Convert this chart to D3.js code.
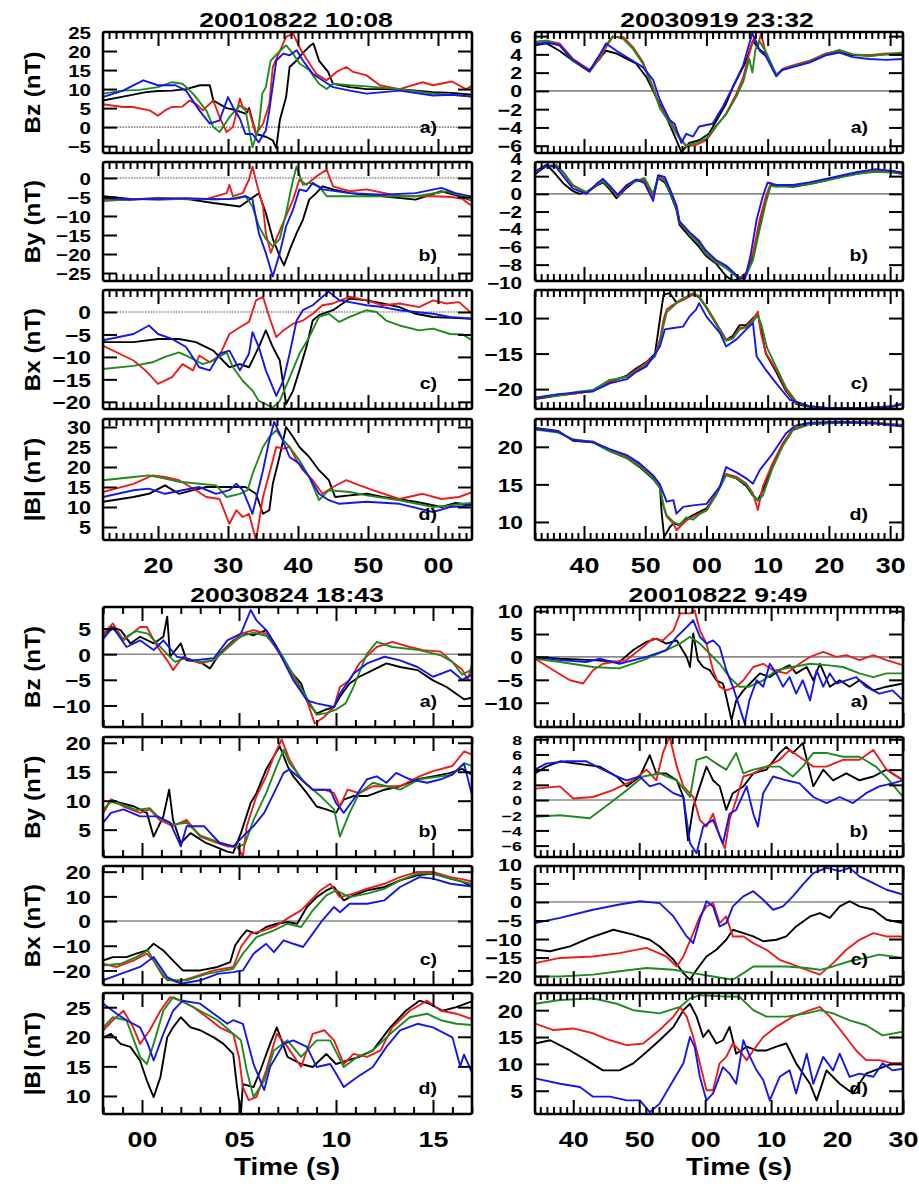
<!DOCTYPE html>
<html><head><meta charset="utf-8">
<script src="https://cdn.jsdelivr.net/npm/d3@7"></script>
<style>
body{margin:0;background:#fff}
text{font-family:"Liberation Sans",Arial,Helvetica,sans-serif;font-weight:bold;fill:#000}
</style>
</head><body>
<svg id="c" width="919" height="1184"></svg>
<script>
// ===== Data: each series is [time, value] pairs; colours in order black, red, green, blue =====
// --- 20010822 10:08 ---
const tlXTicks=[20,30,40,50,60];
const tlBzTicks=[-5,0,5,10,15,20,25], tlByTicks=[-25,-20,-15,-10,-5,0], tlBxTicks=[-20,-15,-10,-5,0], tlBmTicks=[5,10,15,20,25,30];
const tlBzK=[[12.1,7],[15,8],[18.3,9.2],[20,9.5],[22,9.6],[24,10],[26,11],[27.4,11],[27.9,7],[29.8,5],[31,4.5],[32.6,3.5],[33,5],[34,-1.8],[35.5,-2.6],[36.4,-3.5],[36.9,-5.5],[37.4,1.8],[38.3,7.9],[38.8,15.8],[39.8,17.5],[40.6,19.3],[41.8,21.5],[42.2,22],[43,17.5],[44.3,14.5],[45,11.4],[47.4,10.5],[49.8,10],[54.5,10],[59.3,9.2],[62,9],[65,8.5]];
const tlBzR=[[12.1,6],[15,5.3],[16.4,5.3],[18.8,4.4],[20,3],[21,4.4],[22,5.3],[23.5,5.4],[24.5,7],[25.5,6],[26.4,4.4],[27.9,7],[28.8,2.6],[29.8,-1.3],[30.7,0],[31.7,7.5],[32.1,5.3],[33,4.4],[34,-1.8],[35,0.9],[35.9,6],[36.4,15.8],[37.4,20],[38.3,23.7],[39.3,24.6],[40.2,21],[41.2,18],[42.6,14],[44.1,12.3],[45.5,14.5],[46.9,15.8],[47.9,14.5],[49.8,13.6],[51.7,11],[54.5,10],[57.8,11.8],[59.3,11],[62,12],[64,10],[65,11]];
const tlBzG=[[12.1,8.8],[15,9.6],[17.4,9.8],[20,10.5],[22,11.8],[23.5,11.4],[25,8.8],[26.9,4.4],[27.9,0],[28.8,-1.3],[30.2,2.6],[31.7,5.7],[32.5,4.4],[33.5,-5.3],[34.4,0],[34.9,8.8],[35.4,10.5],[36.1,17.5],[37.4,20],[38.3,21.5],[39.3,19.3],[40.2,16.7],[41.6,15],[43,11.4],[44.1,10],[45,11.4],[47.4,11],[49.8,10.7],[54.5,10],[59.3,8.8],[62,8.5],[65,8]];
const tlBzB=[[12.1,7.9],[15,9.6],[17.9,12.3],[20,11],[22.5,11],[24,9.6],[25.9,4.4],[27.4,0.9],[28.8,1.8],[30,7.9],[30.7,5.3],[31.7,2.2],[32.5,-1.8],[33.5,-1.8],[34.4,-4],[35.4,-0.9],[35.9,4.4],[36.9,17.5],[37.9,19.3],[38.8,18.9],[39.8,20.2],[40.7,17.5],[42.1,14],[43.5,12.3],[45,10.5],[47.4,9.6],[49.8,8.8],[54.5,9.6],[59.3,8.3],[62,8.5],[65,8]];
const tlByK=[[12.1,-4.8],[16,-5.5],[20,-5.7],[24,-5.5],[27.9,-6.6],[31.7,-7.5],[34.4,-4],[35.4,-9.2],[36.4,-16],[37.4,-20.6],[38,-23],[38.8,-19],[39.8,-14.5],[40.7,-11],[41.6,-5.7],[42.6,-4],[43.5,-2.2],[45,-3],[47.4,-4],[52.1,-4.8],[56.8,-5.7],[60.5,-3.5],[62.5,-4.5],[65,-6]];
const tlByR=[[12.1,-5.7],[16,-5.8],[20,-5.2],[24,-5.6],[27,-5.5],[29.8,-4],[30.2,-1.8],[30.7,-4.8],[32.1,-4],[33,-0.4],[33.5,3],[34.2,-2.2],[35,-7.5],[35.4,-14.5],[36.1,-19.7],[36.9,-16],[38.3,-10],[39.3,-5.7],[40.2,-0.4],[41.2,-1.8],[42.6,0.4],[44.1,2.2],[45,-2.2],[47.4,-3.5],[49.8,-3],[54.5,-4.8],[59.3,-4.8],[62,-5],[63.5,-5.5],[65,-7.6]];
const tlByG=[[12.1,-6.1],[16,-5.6],[20,-5.4],[24,-5.5],[28,-5.6],[30,-5.5],[32.5,-4.8],[33.5,-7.5],[34.4,-12.7],[35.4,-16],[36.4,-18],[37.4,-16],[38.3,-9.2],[39.3,-0.4],[39.8,3],[40.7,-1.8],[41.6,-1.3],[43,-2.2],[44.1,-4.8],[47.4,-4.8],[52.1,-4.8],[56.8,-4.8],[61.3,-3.5],[63,-4.5],[65,-6]];
const tlByB=[[12.1,-5.3],[16,-5.6],[20,-5.5],[24,-5.3],[28,-5.6],[31,-5.5],[32.5,-4.8],[33.5,-5.7],[34.4,-14.5],[35.4,-19.7],[36.4,-25.9],[37.4,-19.7],[38.3,-12.7],[39.3,-8.3],[40.2,-3],[41.2,-3.5],[42.1,-1.3],[43.5,-3],[47.4,-4],[52.1,-4.4],[56.8,-4],[60.5,-2.6],[62.5,-4],[65,-5]];
const tlBxK=[[12.1,-6.7],[16.5,-6.7],[20,-6],[23,-6],[25.4,-6.7],[27.9,-8.6],[30.2,-12.3],[31.7,-11.6],[33,-12.3],[34.4,-7.8],[35.4,-4.1],[36.4,-7.8],[37.4,-10.8],[38.3,-20.5],[39.3,-17.5],[40.2,-13],[41.2,-7.8],[42.1,-1.9],[43,-0.7],[45,0.4],[47.4,3],[49.8,2.6],[52.1,1.9],[54.5,1.1],[56.8,-0.4],[59.3,-1.1],[62,-1.3],[65,-1.5]];
const tlBxR=[[12.1,-7.5],[16.5,-10.8],[18.2,-13],[20,-16],[22,-14.5],[23.5,-11.6],[25,-13],[25.9,-9.7],[27.4,-11.2],[28.8,-9.7],[30.2,-4.9],[31.7,-3.4],[33,-2.2],[34,2.6],[35,3.4],[35.9,-1.1],[36.9,-5.6],[37.9,-4.1],[39.3,-2.6],[40.7,-1.9],[42.1,-0.4],[43.5,1.5],[45,1.9],[47.4,3.4],[49.8,2.6],[52.1,1.5],[54.5,1.9],[57.3,1.1],[59.3,2.6],[61.2,1.9],[63,2.2],[65,-0.5]];
const tlBxG=[[12.1,-12.7],[16.5,-12],[19.2,-11.2],[21,-10],[23,-9],[24.4,-10],[26.4,-11.6],[27.9,-10.8],[29.8,-9],[30.7,-12.3],[32.1,-15.3],[33.5,-17.5],[34.4,-19.8],[35.4,-20.5],[36.4,-21.3],[37.4,-19.8],[38.8,-14.6],[40.2,-9.3],[41.6,-5.6],[43,-1.1],[44.4,-0.4],[45.9,-2.2],[47.4,-1.1],[49.8,0.4],[51.2,0],[52.6,-1.9],[54.5,-3],[57.3,-4.1],[59.3,-3.7],[61.7,-4.9],[63.5,-5],[65,-6.4]];
const tlBxB=[[12.1,-6.3],[16.5,-4.9],[18.7,-3],[20,-4.9],[22,-6],[24,-7.8],[25.9,-12.3],[27.4,-13],[28.8,-9.3],[30.2,-8.6],[31.7,-13],[33,-9.3],[33.5,-4.5],[34.4,-7.8],[35.4,-13],[36.9,-18.7],[37.9,-15.3],[38.8,-9.3],[39.8,-1.9],[40.7,0.4],[42.1,1.5],[43.5,3.4],[44.4,4.5],[45.9,2.6],[47.4,2.2],[49.8,1.5],[52.1,1.1],[54.5,0.4],[56.8,0],[59.3,-0.4],[61.7,-1.1],[65,-1.5]];
const tlBmK=[[12.1,11.3],[16.5,12.5],[18.7,13.3],[21,15.4],[23,13.3],[25,14.2],[26.9,15],[30.2,15],[32.5,15],[34,13.3],[35,8.3],[35.9,9.2],[36.4,15.8],[37.4,22.9],[38.3,30],[39.3,27.5],[40.2,25],[41.6,22.5],[43,19.2],[44.4,16.7],[45.3,12.5],[47.4,12.9],[49.8,13.3],[52.1,12.5],[56.8,11.3],[60.5,10],[62.5,11],[65,10.5]];
const tlBmR=[[12.1,13.75],[16.5,15.8],[19.2,17.9],[21,17.5],[23,16.7],[25.4,14.2],[26.9,12.5],[28.8,12],[30.2,5.8],[31.2,9.2],[32.1,7.5],[33,8.3],[34,1.7],[35,12.5],[35.9,18.3],[36.9,25],[37.9,24.6],[38.8,25],[39.8,21.7],[40.7,19.2],[42.1,16.7],[43.5,13.3],[45,15],[46.9,16.7],[48.8,15.4],[50.7,14.2],[54.5,12],[57.8,13.3],[60.5,12],[63,12.5],[65,13.8]];
const tlBmG=[[12.1,16.7],[16.5,17.5],[18.7,17.9],[21,17.1],[23,16.3],[25.9,15.8],[28.3,15.4],[29.8,12.5],[31.7,13.3],[32.8,14.2],[33.5,18.3],[35,25],[35.9,27.5],[36.9,29.2],[37.9,26.7],[38.8,25],[40.2,21.7],[41.6,17.5],[43,11.7],[44.4,14.2],[47.4,13.75],[49.8,12.9],[54.5,11.7],[59.3,10],[61.7,10.4],[63.5,10.8],[65,11]];
const tlBmB=[[12.1,12.5],[16.5,14.2],[18.7,14.6],[21,13.3],[23.5,14.2],[25.9,15],[28.3,13.3],[30.2,14.2],[31.2,15.8],[32.1,14.2],[33.5,8.3],[35,19.2],[35.9,26.7],[36.6,31.3],[37.6,27.5],[38.8,22.5],[40.2,20.8],[41.6,17.5],[43,13.3],[44.4,11.7],[45.9,10.8],[49.8,11.3],[54.5,10.8],[59.3,8.75],[61.7,10],[63.5,10.2],[65,10.5]];

// --- 20030919 23:32 ---
const trXTicks=[40,50,60,70,80,90];
const trBzTicks=[-6,-4,-2,0,2,4,6], trByTicks=[-10,-8,-6,-4,-2,0,2,4], trBxTicks=[-20,-15,-10], trBmTicks=[10,15,20];
const trBzK=[[32,5],[33.9,5.2],[36,4.4],[38.2,3.3],[40.9,2.1],[42.6,3.6],[43.6,4.4],[45.3,4.1],[47,3.5],[48.5,3],[50.2,1.5],[51.8,-0.7],[53.4,-2.8],[55.1,-5.4],[55.9,-6.7],[57.2,-5.7],[58.8,-5.4],[60.4,-4.7],[63.2,-1.4],[64.3,0.4],[66.5,3.3],[67.6,5.5],[68.4,4.7],[69.7,4],[71.4,1.7],[72.4,2.3],[74.1,2.7],[76.8,3.2],[79.5,4],[81.7,4.3],[83.9,3.9],[86.6,3.9],[89.3,4],[92.1,4]];
const trBzR=[[32,5.3],[33.9,5.5],[36,5.2],[38.2,3.5],[40.9,2.3],[42.6,3.5],[43.6,4.8],[44.7,5.9],[46.4,5.9],[48,4.8],[49.6,3.2],[51.3,0.4],[52.4,-1.7],[54,-3.2],[55.6,-5],[56.7,-6.1],[58.3,-5.9],[60,-5.4],[61.6,-3.9],[63.2,-2.5],[64.9,-0.3],[66,1.5],[67,4.1],[67.8,5.9],[68.4,4.8],[68.9,6.3],[69.7,4.1],[71.4,1.7],[72.4,2.4],[74.1,2.8],[76.8,3.3],[79.5,4.1],[81.7,4.4],[83.9,4],[86.6,3.9],[89.3,4.1],[92.1,4.1]];
const trBzG=[[32,5.4],[33.9,5.5],[36,5],[38.2,3.3],[40.9,2.2],[42.6,3.8],[43.6,5],[44.7,6],[46.4,5.7],[48,4.6],[49.6,3],[51.3,0.2],[52.4,-1.9],[54,-3.5],[55.6,-5.2],[56.7,-6],[58.3,-5.7],[60,-5.2],[61.6,-3.8],[63.2,-2.6],[64.9,-0.6],[66,1],[67,3.5],[67.5,2],[68,4.5],[68.6,5.5],[69.7,4.3],[71.4,1.8],[72.4,2.3],[74.1,2.7],[76.8,3.2],[79.5,4],[81.7,4.5],[83.9,4],[86.6,3.8],[89.3,4],[92.1,4.2]];
const trBzB=[[32,5.1],[33.9,5.3],[36,5],[38.2,3.4],[40.9,2.2],[42.6,4],[43.6,5.2],[45.3,4.4],[47.5,3.5],[49.6,2.6],[51.3,1.2],[52.4,-1],[54,-3.2],[54.8,-3.6],[55.9,-5.7],[56.7,-4.7],[57.8,-5],[58.8,-3.9],[61,-3.6],[62.7,-1.7],[64.3,0.4],[66,2.8],[67,5.2],[67.5,6.3],[68.7,4.4],[69.7,3.8],[71.4,1.6],[72.4,2.3],[74.1,2.6],[76.8,3.1],[79.5,3.9],[81.7,4.2],[83.9,3.7],[86.6,3.5],[89.3,3.4],[92.1,3.5]];
const trByK=[[32,2.5],[33.9,3.3],[35,2.5],[36.6,1.2],[38.2,0.3],[39.3,0],[40.4,0.2],[42,0.9],[43.1,1.3],[44.2,0.5],[45.3,-0.5],[47,0.7],[48.5,1.5],[49.9,1.5],[51.3,-0.3],[52.1,1.8],[53.2,1.3],[54,0.2],[55.1,-1.8],[55.6,-3.5],[57.2,-4.8],[58.8,-6],[59.9,-7],[61.6,-7.9],[63.2,-9.3],[64.3,-9.8],[65.4,-9.6],[66.5,-9],[67.6,-7],[68.7,-3.2],[69.7,-0.5],[70.5,1],[71.4,0.9],[74.1,0.8],[76.8,1.1],[79.5,1.5],[82.2,2],[84.9,2.3],[87.7,2.6],[90.3,2.6],[92.1,2.4]];
const trByR=[[32,2.4],[33.9,3.1],[35.5,3.3],[36.6,2.4],[38.2,0.9],[40.4,0.1],[42,0.9],[43.1,1.6],[44.2,0.9],[45.5,-0.3],[47,0.9],[48.5,1.6],[49.9,1.6],[51.3,-0.4],[52.1,2],[53.2,1.6],[54,0.5],[55.1,-1.4],[55.6,-3.3],[57.2,-4.4],[58.8,-5.5],[59.9,-6.7],[61.6,-7.8],[63.2,-8.2],[64.3,-8.9],[65.4,-9.5],[66.5,-8.9],[67.6,-6.7],[68.7,-2.9],[69.7,-0.3],[70.5,1.2],[71.4,0.9],[74.1,0.9],[76.8,1.2],[79.5,1.6],[82.2,2],[84.9,2.4],[87.7,2.6],[90.3,2.5],[92.1,2.2]];
const trByG=[[32,2.3],[33.9,3.2],[35.5,3.2],[36.6,2.5],[38.2,1],[40.4,0.2],[42,1],[43.1,1.4],[44.2,0.7],[45.5,-0.2],[47,1],[48.5,1.4],[49.9,1.8],[51.3,0],[52.1,1.8],[53.2,1.5],[54,0.3],[55.1,-1.6],[55.6,-3.1],[57.2,-4.6],[58.8,-5.7],[59.9,-6.8],[61.6,-7.7],[63.2,-8.4],[64.3,-9],[65.4,-9.7],[66.5,-9.2],[67.6,-7.5],[68.7,-4],[69.7,-1],[70.5,0.9],[71.4,0.8],[74.1,0.9],[76.8,1.1],[79.5,1.5],[82.2,1.9],[84.9,2.3],[87.7,2.5],[90.3,2.4],[92.1,2.3]];
const trByB=[[32,2.2],[33.9,3.2],[35.5,3],[36.6,2],[38.2,0.6],[40.4,0],[42,1.1],[43.1,1.7],[44.2,0.9],[45.5,-0.1],[47,1],[48.5,1.6],[49.9,1.2],[51.3,-0.8],[52.1,2.1],[53.2,1.9],[54,0.6],[55.1,-1.3],[55.6,-3.1],[57.2,-4.3],[58.8,-5.3],[59.9,-6.4],[61.6,-7.5],[63.2,-8.1],[64.3,-8.8],[65.4,-9.5],[66.3,-9.6],[67.2,-7],[68.2,-2.9],[69.2,-0.3],[70,1.3],[71.4,1],[74.1,1],[76.8,1.3],[79.5,1.7],[82.2,2.1],[84.9,2.5],[87.7,2.8],[90.3,2.6],[92.1,2.3]];
const trBxK=[[32,-21.4],[35.8,-20.9],[38.7,-20.6],[41.5,-20.2],[44.2,-19],[47,-18.1],[48.5,-17.1],[50.2,-16.2],[51.6,-15],[52.4,-10.2],[53,-6.7],[54,-6.5],[55.1,-7.8],[56.2,-7.4],[57.8,-6.6],[58.8,-7.1],[60,-8.5],[61.6,-10.8],[63.2,-13.1],[64.3,-12.5],[65.4,-11],[66.5,-11],[67.6,-10],[68.4,-9.5],[69.2,-12.8],[69.7,-15],[71.4,-17.6],[73,-20.3],[74.7,-22.1],[76.8,-22.5],[79.5,-22.7],[84.9,-22.8],[90.3,-22.4],[92.1,-22]];
const trBxR=[[32,-21.3],[35.8,-20.8],[38.7,-20.6],[41.5,-20.3],[44.2,-18.9],[47,-18.2],[48.5,-17.3],[50.2,-16.3],[51.6,-15.2],[52.4,-13],[53,-10.2],[53.5,-8.8],[54.6,-8.1],[55.6,-7.7],[56.7,-7.2],[57.8,-6.7],[58.8,-7],[60,-8.4],[61.6,-10.7],[63.2,-13],[64.3,-12.8],[65.4,-11.4],[66.5,-11.2],[67.6,-10.2],[68.4,-9.1],[68.9,-12.1],[69.7,-14.9],[71.4,-17.3],[73,-20.1],[74.7,-22],[76.8,-22.4],[79.5,-22.7],[84.9,-22.7],[90.3,-22.4],[92.1,-22]];
const trBxG=[[32,-21.2],[35.8,-20.9],[38.7,-20.4],[41.5,-20.1],[44.2,-18.7],[47,-18.3],[48.5,-17.5],[50.2,-16.5],[51.6,-15.4],[52.4,-13.5],[53,-11],[53.5,-9.2],[54.6,-8.3],[55.6,-7.5],[56.7,-7],[57.8,-6.5],[58.8,-6.9],[60,-8.6],[61.6,-10.9],[63.2,-13.2],[64.3,-12.9],[65.4,-11.6],[66.5,-11.3],[67.6,-10.5],[68.4,-9.6],[69,-11],[69.9,-14.2],[71.4,-16.9],[73,-19.8],[74.7,-21.8],[76.8,-22.5],[79.5,-22.8],[84.9,-22.8],[90.3,-22.5],[92.1,-22.1]];
const trBxB=[[32,-21.2],[35.8,-20.7],[38.7,-20.5],[41.5,-20.3],[44.2,-19.2],[47,-18.6],[48.5,-17.6],[50.2,-16.8],[52.4,-14],[53.2,-11.6],[54.6,-11.4],[56.2,-11.2],[57.2,-9.8],[58.3,-8.8],[58.8,-7.9],[60,-9.8],[62.2,-12.1],[63.2,-14],[64.9,-13],[66.5,-11.6],[67.6,-10.7],[68.2,-15.4],[69.7,-17.3],[71.4,-19.2],[73.6,-21.5],[76.8,-22.4],[79.5,-22.6],[84.9,-22.7],[90.3,-22.5],[92.1,-22.1]];
const trBmK=[[32,22.5],[35.8,22.1],[38.2,20.8],[41.5,20.6],[44.2,19.5],[47,18.5],[49.1,17.3],[51.3,15.7],[52.4,14.6],[52.7,11.1],[53.1,8],[54,9.3],[54.6,9.8],[55.6,9.6],[56.7,10.4],[57.8,10.9],[58.8,11.3],[60,11.8],[61.6,13.7],[63.2,16.3],[64.9,15.8],[66.5,14.8],[67.6,13.5],[68.4,12.9],[69.2,14.2],[70.8,17.6],[72.4,20.2],[74.1,22.3],[76.8,23.1],[82.2,23.3],[87.7,23.2],[92.1,22.8]];
const trBmR=[[32,22.4],[35.8,22],[38.2,20.9],[41.5,20.7],[44.2,19.6],[47,18.7],[49.1,17.6],[51.3,16],[52.4,14.7],[53,12],[53.5,10.7],[54.6,9.8],[55.1,8.9],[55.6,9.3],[56.7,10.2],[57.8,10.7],[58.8,11.1],[60,11.6],[61.6,13.8],[63.2,16.4],[64.9,16],[66.5,15.1],[67.6,13.8],[68.4,11.6],[69.2,14.7],[70.8,17.8],[72.4,20.4],[74.1,22.4],[76.8,23.1],[82.2,23.3],[87.7,23.2],[92.1,22.9]];
const trBmG=[[32,22.3],[35.8,21.9],[38.2,21],[41.5,20.6],[44.2,19.4],[47,18.5],[49.1,17.4],[51.3,15.8],[52.4,14.5],[53,12.2],[53.5,10.9],[54.6,10],[55.6,9.6],[56.7,10.6],[57.8,10.3],[58.8,11],[60,11.5],[61.6,13.6],[63.2,16.2],[64.9,15.8],[66.5,15],[67.6,13.6],[68.4,12.8],[69.2,13.5],[70.8,17.2],[72.4,20],[74.1,22.2],[76.8,23],[82.2,23.2],[87.7,23.1],[92.1,22.8]];
const trBmB=[[32,22.4],[35.8,22],[38.2,20.9],[41.5,20.6],[44.2,19.7],[47,18.9],[49.1,17.8],[51.3,16.2],[52.4,15],[53.5,12.7],[54.6,12.9],[55.1,11.1],[56.2,12],[57.8,12.2],[60,12.4],[62.2,14.7],[63.2,17.3],[64.9,16.6],[66.5,15.8],[67.6,15.1],[68.7,16.9],[70.8,19.1],[73,21.8],[74.5,22.8],[76.8,23.2],[82.2,23.3],[87.7,23.1],[92.1,22.7]];

// --- 20030824 18:43 ---
const blXTicks=[0,5,10,15];
const blBzTicks=[-10,-5,0,5], blByTicks=[5,10,15,20], blBxTicks=[-20,-10,0,10,20], blBmTicks=[10,15,20,25];
const blBzK=[[-2,3.4],[-1.6,5.3],[-1.1,4.7],[-0.6,2.1],[-0.1,3.4],[0.6,2.1],[1.1,3.4],[1.3,7.3],[1.45,-0.5],[2,2.1],[2.3,-1.2],[3,-1.5],[3.5,-2.8],[4,0.1],[4.7,2.7],[5.4,4],[5.75,3.7],[6.4,4.7],[6.95,1.4],[7.6,-3.1],[8.2,-5.7],[8.5,-9],[9,-11.6],[9.4,-10.9],[9.9,-10.3],[10.2,-8.3],[10.7,-5.7],[11.2,-4.4],[11.9,-3.1],[12.6,-1.8],[13.3,-2.5],[14.2,-3.1],[15,-5.1],[15.7,-6.4],[16.6,-8.8],[17,-8.5]];
const blBzR=[[-2,4],[-1.5,6],[-0.95,2.7],[-0.1,5.3],[0.25,5.3],[0.8,1.4],[1.3,-1.2],[1.6,-3.1],[2.1,-0.5],[3,-1.8],[3.7,-1.2],[4.4,1.4],[5.1,4],[5.75,4.7],[6.4,4],[7.1,0.1],[7.8,-4.4],[8.5,-9],[8.9,-13.5],[9.4,-12.2],[9.9,-10.3],[10.2,-6.4],[10.7,-5.1],[11.2,-1.8],[12.1,1.4],[12.9,2.4],[13.8,1.4],[14.5,0.8],[15.4,0.5],[16,-1.5],[16.5,-3],[16.8,-5],[17,-2]];
const blBzG=[[-2,3.5],[-1.5,5],[-1,3],[-0.3,4.5],[0.3,4],[0.8,2],[1.3,0],[1.7,-1.5],[2.2,-0.8],[3,-1.5],[3.7,-1.2],[4.4,1.2],[5.1,3.5],[5.75,4.2],[6.4,3.6],[7.1,0.5],[7.8,-4],[8.5,-8.5],[9,-11.8],[9.5,-11.5],[10,-10.8],[10.5,-9.6],[10.9,-6.4],[11.6,0.1],[12.1,2.4],[12.9,1.4],[14.3,0.8],[15.4,-0.2],[16,-1.5],[16.5,-4],[17,-3]];
const blBzB=[[-2,3],[-1.5,5.3],[-0.8,1.4],[-0.1,2.7],[0.6,0.8],[1.1,2.7],[1.8,-0.5],[2.65,-1.2],[3.7,-0.8],[4.4,2.7],[5.1,4],[5.6,8.6],[5.9,6.6],[6.4,4.7],[7.1,0.1],[7.8,-5.1],[8.5,-9],[9,-9.6],[9.9,-10.3],[10.2,-7.7],[10.9,-3.8],[11.6,-1.8],[12.5,-0.5],[13.3,-1.2],[14.2,-2.5],[15,-4.4],[15.9,-3.1],[16.5,-5],[17,-4]];
const blByK=[[-2,7.9],[-1.6,10.2],[-1.1,9.6],[-0.4,9],[0.25,7.9],[0.6,3.8],[1.1,7.3],[1.4,11.9],[1.6,6.7],[2,2.7],[2.5,4.4],[3.3,2.7],[4.4,1.2],[4.7,1],[5.1,4.4],[5.6,9.6],[5.9,11.3],[6.4,15.4],[6.8,17.7],[7.1,19.4],[7.5,16],[7.8,14.2],[8.5,11.3],[9,9],[9.5,8.5],[10,7.9],[10.4,10.2],[10.9,10.8],[11.6,10.8],[12.5,11.9],[13.3,12.5],[14.2,13.7],[15,14.2],[15.9,14.8],[16.5,15.5],[17,14.5]];
const blByR=[[-2,7.9],[-1.6,10.2],[-0.95,9],[-0.1,7.9],[0.4,8.5],[0.9,6.7],[1.6,5.6],[2.3,6.7],[3,3.8],[3.9,2.7],[4.4,2.1],[4.9,2.1],[5.2,0.4],[5.4,5.6],[5.9,10.8],[6.4,14.2],[6.8,17.7],[7.2,20.6],[7.6,17.1],[8.2,13.7],[8.8,11.9],[9.4,11.9],[9.9,11.3],[10.2,9],[10.6,11.9],[11.2,11.3],[11.9,12.5],[13.3,12.5],[14.3,14.2],[15,15.1],[16,16],[16.6,18.5],[17,18]];
const blByG=[[-2,8.5],[-1.6,9.8],[-1,9.3],[-0.3,8.4],[0.4,8.7],[0.9,7],[1.6,5.9],[2.3,6.2],[3,4],[3.9,2.9],[4.4,2.4],[4.9,2],[5.3,2.5],[5.75,6.7],[6.4,11.3],[6.95,16],[7.3,18.8],[7.6,16.5],[8.4,13.1],[9.2,10.8],[9.9,8.5],[10.2,3.8],[10.7,7.9],[11.2,11.3],[11.9,13.1],[13.3,11.9],[14.3,13.7],[15.4,14.2],[16,14.5],[16.6,16.5],[17,16]];
const blByB=[[-2,6.2],[-1.6,7.9],[-0.95,8.5],[-0.1,7.3],[0.8,7.3],[1.45,6.2],[2,2.1],[2.3,5.6],[3.2,5.6],[4,2.7],[4.7,2.1],[5.2,3.8],[5.75,5.6],[6.3,7.9],[6.8,11.3],[7.3,14.8],[7.6,15.4],[8.2,13.7],[8.8,11.9],[9.7,11.9],[10,9.6],[10.4,7.9],[10.9,10.2],[11.6,13.7],[12.1,14.2],[12.6,13.1],[13.1,14.8],[13.8,13.7],[14.7,13.1],[15.4,13.7],[16,14.5],[16.6,16.4],[17,11.1]];
const blBxK=[[-2,-16],[-1.5,-14.6],[-0.8,-14.6],[-0.3,-13.2],[0.25,-11.9],[0.6,-9.2],[1.1,-11.9],[1.6,-16],[2.1,-20],[3,-20],[3.9,-18.6],[4.55,-16.6],[4.8,-9.9],[5.1,-6.5],[5.4,-3.8],[5.9,-5.1],[6.4,-2.4],[6.95,-1.1],[7.5,-0.4],[8,-1.1],[8.5,5.7],[9,9.7],[9.5,12.4],[9.9,13.8],[10.4,8.4],[10.9,10.4],[11.6,12.4],[12.5,13.8],[13.3,16.5],[14.2,18.5],[15,19.2],[15.9,17.2],[16.5,16],[17,14]];
const blBxR=[[-2,-17.3],[-1.3,-18.6],[-0.45,-16],[0.25,-13.2],[0.6,-16],[1.1,-22.7],[1.8,-24.7],[2.65,-22.7],[3.7,-20],[4.7,-18.6],[5.1,-10.5],[5.6,-5.1],[6.3,-3.8],[6.95,-1.8],[7.6,1.6],[8.2,4.3],[8.7,8.4],[9.2,12.4],[9.7,15.1],[10.2,9.7],[10.9,11.1],[11.6,13.1],[12.5,15.1],[13.3,17.8],[14.2,19.9],[15,19.9],[15.9,17.8],[16.5,17],[17,16]];
const blBxG=[[-2,-18],[-1.1,-17.3],[-0.3,-14.6],[0.3,-11.9],[0.8,-18.6],[1.3,-24],[2.3,-24],[3.35,-21.4],[4.7,-19.3],[5.2,-13.2],[5.9,-6.5],[6.8,-3.8],[7.5,-1.1],[8.2,-2.4],[8.8,4.3],[9.5,10.4],[10,12.4],[10.7,9.7],[11.6,11.1],[12.5,13.1],[13.3,16.5],[14.2,19.2],[15,19.2],[15.9,17.2],[16.5,16],[17,15]];
const blBxB=[[-2,-24],[-1.1,-21.4],[-0.1,-18.6],[0.6,-14.6],[1.3,-22.7],[2,-25.4],[3,-24],[3.9,-21.4],[4.7,-20.7],[5.2,-20],[5.75,-13.2],[6.4,-9.2],[6.8,-12.6],[7.3,-7.8],[7.8,-9.2],[8.3,-10.5],[8.8,-5.1],[9.3,0.3],[9.9,5.7],[10.2,3.6],[10.7,7],[11.6,7],[12.5,8.4],[13.3,13.8],[14.3,17.8],[15,17.2],[15.9,15.1],[16.5,14.5],[17,14]];
const blBmK=[[-2,19.9],[-1.6,20.5],[-1.1,18.8],[-0.6,18.3],[-0.1,16],[0.25,12.6],[0.6,9.8],[0.95,13.2],[1.3,19.9],[1.6,21.6],[2,23.3],[2.5,21.6],[3,21.1],[3.7,19.9],[4.2,18.8],[4.7,17.1],[4.9,11.5],[5.1,7],[5.2,12],[5.75,11.5],[6.1,14.3],[6.6,18.8],[6.95,21.6],[7.5,16.6],[8.2,15.4],[8.8,14.9],[9.5,17.1],[10,15.4],[10.6,16],[11.2,16.6],[11.9,17.7],[12.8,21.6],[13.6,24.4],[14.3,26.1],[14.8,25.6],[15.5,24.4],[16.2,25],[17,26]];
const blBmR=[[-2,21.1],[-1.5,22.8],[-0.95,24.4],[-0.45,21.6],[-0.1,18.8],[0.4,21.1],[0.95,24.4],[1.45,26.7],[2,26.1],[2.65,25],[3.35,23.3],[4,21.6],[4.7,20.5],[5,16.6],[5.2,11.5],[5.5,9.3],[5.9,9.8],[6.4,14.3],[6.95,20.5],[7.5,18.3],[8.2,14.9],[8.8,20.5],[9.4,21.1],[9.9,19.4],[10.4,15.4],[10.9,17.1],[11.6,16.6],[12.3,17.7],[12.9,21.6],[13.8,24.4],[14.7,26.1],[15.4,24.4],[16.2,23.9],[17,23]];
const blBmG=[[-2,21.6],[-1.5,23.3],[-0.8,22.8],[-0.1,16.6],[0.25,15.4],[0.6,18.8],[1.1,24.4],[1.6,26.7],[2.3,25.6],[3,24.4],[3.9,22.8],[4.7,20.5],[5.1,19.4],[5.4,14.3],[5.75,9.8],[6.3,12.6],[6.8,17.7],[7.5,19.4],[8.2,16.6],[9,19.4],[9.7,19.4],[10.4,14.9],[11.1,16.6],[11.9,17.7],[12.8,20.5],[13.8,23.3],[14.7,23.9],[15.4,22.8],[16.2,22.2],[17,22]];
const blBmB=[[-2,25.6],[-1.3,23.9],[-0.8,22.8],[-0.1,21.6],[0.3,18.8],[0.6,16],[1.1,20.5],[1.6,24.4],[2.1,26.1],[3,25.6],[3.7,23.9],[4.4,22.2],[4.7,22.8],[5.2,22.2],[5.75,15.4],[6.3,11],[6.6,14.9],[7.3,18.8],[7.8,19.4],[8.5,18.3],[9,14.9],[9.7,15.4],[10,13.8],[10.4,11.5],[11.1,13.2],[11.9,14.9],[12.6,18.3],[13.3,21.1],[14.2,22.2],[15,21.6],[16,19.9],[16.4,15],[16.6,17],[17,14]];

// --- 20010822 9:49 ---
const brXTicks=[40,50,60,70,80,90];
const brBzTicks=[-10,-5,0,5,10], brByTicks=[-6,-4,-2,0,2,4,6,8], brBxTicks=[-20,-15,-10,-5,0,5,10], brBmTicks=[5,10,15,20];
const brBzK=[[34.2,0],[38,-0.4],[43,-0.7],[47,-1.1],[49.1,1.5],[51.1,3.3],[52.6,4],[54.1,2.9],[55.7,3.6],[57.2,0],[57.7,-2.2],[58.2,5.1],[58.9,-0.7],[59.7,-2.2],[60.7,-2.9],[61.7,-5.1],[62.7,-5.8],[63.2,-8.7],[64,-13.8],[64.7,-9.5],[65.8,-7.3],[67.3,-5.1],[68.3,-3.6],[69.8,-4.4],[71.3,-2.9],[72.8,-1.8],[73.8,-3.6],[75.4,-2.2],[76.4,-5.1],[77.4,-1.5],[78.9,-6.5],[80.4,-5.1],[81.9,-6.5],[83.4,-5.1],[85.5,-7.3],[87.5,-6.5],[90,-5.8]];
const brBzR=[[34.2,-0.4],[37,-2.9],[39.5,-5.1],[41.5,-5.8],[43,-2.9],[44.5,-1.5],[48,-0.7],[50,1.5],[52.1,4],[53.6,3.6],[55.2,5.8],[56.2,9.5],[57.7,9.5],[58.4,10.2],[59.2,5.8],[60.2,2.9],[61.2,-2.9],[62.2,-6.5],[63.2,-7.3],[64.7,-6.5],[65.8,-5.1],[67.3,-2.2],[68.8,-1.5],[70.3,-2.9],[72.3,-3.6],[74.3,-1.5],[75.9,0],[77.9,1.1],[79.9,0],[81.4,0.4],[83.4,-0.7],[85.5,0.4],[87.5,-0.7],[90,-1.8]];
const brBzG=[[34.2,-0.4],[38,-1.1],[43,-2.2],[47,-2.5],[50.6,-0.7],[54.1,1.5],[56.2,2.9],[57.7,4.4],[59.2,2.9],[60.7,0.7],[62.2,-1.5],[63.7,-4.4],[65.2,-6.5],[66.7,-6.5],[68.8,-5.1],[70.8,-2.9],[73.3,-2.2],[75.9,-1.5],[78.4,-1.8],[80.9,-2.2],[83.4,-3.6],[85.5,-4.4],[87.5,-3.6],[90,-3.6]];
const brBzB=[[34.2,0],[38,-0.7],[42,-1.1],[44,-0.4],[47,-1.5],[51.1,0],[54.1,1.5],[55.7,4.4],[57.2,6.5],[58.2,8],[59.2,4.4],[60.2,2.9],[61.2,3.6],[62.2,2.2],[63.2,-2.9],[64.2,-6.5],[65.2,-10.9],[66,-14.5],[66.7,-9.5],[67.8,-5.1],[68.8,-6.5],[69.8,-1.5],[70.8,-3.6],[71.8,-6.5],[72.8,-4.4],[73.8,-8],[74.8,-5.1],[75.9,-9.5],[76.9,-2.9],[77.9,-6.5],[78.9,-3.6],[79.9,-5.8],[81.4,-5.1],[82.9,-4.4],[84.4,-6.5],[86.4,-8],[88.4,-7.3],[90,-9.5]];
const brByK=[[34.2,3.5],[35.9,4.4],[38,5.1],[40.5,4.8],[44,4.4],[46.6,3.1],[48.1,1.8],[50.1,3.1],[51.6,5.9],[52.6,3.5],[54.1,3.5],[55.7,2.6],[56.7,0.4],[57.4,-5.3],[58.2,-0.9],[59.2,1.8],[60.2,4.4],[61.2,2.6],[62.2,1.8],[63.2,-1.3],[64.2,0.9],[65.8,1.8],[67.3,3.5],[69.3,4],[71.3,6.2],[72.3,7],[73.3,6.2],[74.8,7.5],[76.4,1.8],[77.9,4],[79.4,2.6],[81.4,3.5],[83.4,2.6],[85.5,3.1],[87.5,4],[90,2.6]];
const brByR=[[34.2,1.5],[38,1.8],[40,0.2],[43,0.4],[46,1.3],[49.1,2.6],[51.1,4],[52.6,2.6],[53.6,6.2],[54.6,8.4],[55.7,4.4],[56.7,1.8],[58.2,0.4],[59.2,-2.6],[60.2,-3.5],[61.2,-1.8],[62.2,-4.8],[63,-6.4],[63.7,-2.6],[64.7,0],[65.8,3.1],[67.3,3.5],[69.3,4.4],[71.3,5.3],[72.8,6.6],[74.3,5.7],[76.4,4.4],[78.4,4.4],[80.9,5.3],[83.4,5.3],[85.5,6.6],[87.5,4],[90,2.6]];
const brByG=[[34.2,-2.2],[38,-2],[42.5,-2.4],[45.6,-0.4],[48.1,1.3],[50.6,3.1],[53.1,3.5],[55.7,2.6],[57.7,0.4],[58.7,5.3],[60.2,5.7],[61.7,4.8],[63.2,4],[64.7,6.2],[65.8,3.5],[67.3,4],[69.3,4.4],[71.3,4.4],[73.3,3.1],[74.8,4.4],[76.4,6.2],[78.4,6.2],[80.9,5.7],[83.4,5.7],[85.9,4.4],[87.9,2.6],[90,0.4]];
const brByB=[[34.2,4],[35.9,4.8],[39,5.1],[42,5.1],[44.5,4],[46.6,3.1],[48.1,2.6],[50.1,3.1],[51.6,1.8],[53.1,2.2],[55.2,0.9],[56.7,0.4],[57.7,-5.7],[58.7,-7],[59.7,-3.5],[61.2,-2.6],[62.7,-5.7],[63.7,-1.8],[64.7,-1.3],[66.3,1.8],[67.3,-1.8],[68,-3.5],[68.8,0.9],[70.3,3.1],[72.3,2.6],[74.3,2.2],[76.4,0.4],[78.4,-0.4],[80.4,0.4],[82.4,-0.4],[84.4,0.9],[86.4,1.8],[88.4,2.2],[90,2.6]];
const brBxK=[[34.2,-12.9],[36.5,-13.3],[39.5,-12],[42.5,-9.7],[46.1,-7.5],[49.1,-8.8],[51.6,-10.2],[53.1,-12],[55.2,-15.6],[56.7,-19.2],[57.7,-21],[58.7,-18.3],[60.2,-14.7],[61.7,-12.9],[63.2,-10.2],[64.2,-7.5],[65.8,-8.4],[67.3,-9.3],[68.8,-10.6],[70.8,-10.2],[72.3,-9.3],[73.8,-6.6],[75.9,-3.9],[77.4,-3],[78.9,-4.3],[80.4,-1.2],[81.9,0.2],[83.4,-1.2],[85.5,-2.1],[87.5,-4.8],[90,-5.7]];
const brBxR=[[34.2,-16.5],[38,-15.1],[43,-14.7],[47,-13.8],[51.1,-12.4],[54.1,-14.7],[55.7,-17.4],[56.7,-14.7],[58.2,-8.4],[59.2,-3.9],[60.2,-1.2],[61.2,-0.3],[62.2,-5.7],[63.2,-3.9],[64.2,-9.3],[65.8,-9.3],[67.3,-11.1],[69.3,-12.9],[71.3,-15.6],[73.3,-16.9],[75.4,-18.3],[77.4,-19.6],[79.4,-16.5],[81.4,-12.9],[83.4,-10.2],[85.5,-8.4],[87.5,-9.3],[90,-9.3]];
const brBxG=[[34.2,-20.1],[38,-20.1],[43,-19.6],[47,-18.7],[51.1,-17.8],[55.2,-18.3],[58.2,-19.2],[61.2,-20.1],[64.2,-21],[65.8,-19.2],[67.3,-17.4],[69.3,-17.4],[72.3,-17.4],[75.4,-17.8],[77.4,-18.3],[79.4,-17.4],[81.9,-16],[84.4,-15.1],[86.4,-14.2],[90,-15.1]];
const brBxB=[[34.2,-5.7],[38,-4.3],[43,-2.1],[47,-0.7],[50.1,0.2],[53.1,-0.3],[55.2,-3.9],[57.2,-9.3],[58.2,-11.1],[59.2,-4.8],[60.2,0.2],[61.2,-1.2],[62.2,-6.6],[63.2,-5.7],[64.2,-1.2],[65.8,1.5],[67.3,2.9],[68.8,0.6],[70.3,-2.1],[71.8,-1.2],[73.3,1.5],[74.8,4.7],[76.4,7.8],[78.4,9.2],[80.4,8.3],[81.9,9.2],[83.4,6.9],[85.5,5.1],[87.5,3.3],[90,2]];
const brBmK=[[34.2,13.8],[36.5,14.4],[39.5,12.5],[42,10.7],[44.5,8.8],[47,8.8],[49.1,10.1],[51.1,12.2],[53.1,14.4],[55.2,16.9],[56.7,20],[57.7,21.2],[58.7,18.8],[59.7,15],[60.5,16.3],[61.7,13.8],[62.7,14.4],[63.7,16.9],[64.7,11.9],[66.3,13.2],[67.8,12.5],[69.3,12.5],[70.8,13.2],[72.3,13.8],[73.8,10.1],[75.9,6.3],[76.9,3.2],[78.4,8.8],[80.4,6.3],[82.4,4.5],[84.4,8.2],[86.4,9.1],[88.4,10.1],[90,10.1]];
const brBmR=[[34.2,17.5],[37,16.3],[40,16.6],[43,15.7],[45.6,14.4],[48.1,13.5],[50.6,13.8],[53.1,16.3],[55.2,18.8],[56.2,20.6],[57.2,18.8],[58.2,15],[59.2,10.1],[60.2,5.1],[61.2,5.1],[62.2,10.1],[63.2,11.3],[64.2,13.8],[65.2,12.5],[66.3,10.7],[67.3,12.5],[68.8,15],[70.8,16.9],[73.3,18.8],[75.9,20],[77.4,20.6],[78.9,18.8],[80.9,15.7],[82.9,12.5],[84.4,10.7],[86.4,10.7],[88.4,10.1],[90,10.1]];
const brBmG=[[34.2,21.2],[38,21.9],[43,22.2],[46.6,21.2],[49.1,20],[53.1,19.4],[56.2,20.6],[57.7,22.2],[59.2,22.8],[62.2,22.6],[65.2,22.5],[67.3,20],[69.3,18.8],[72.3,18.8],[75.4,19.4],[77.4,20],[79.4,19.4],[81.9,18.1],[84.4,17.2],[86.9,15.3],[90,16]];
const brBmB=[[34.2,7.3],[38,6.3],[41,5.7],[43,3.9],[45.6,3.9],[48.1,3.2],[50.1,3.2],[51.6,1],[53.1,2.6],[55.2,7],[56.7,10.1],[57.7,15],[58.4,13.2],[59.2,7.6],[60.2,3.2],[61.2,4.5],[62.7,9.4],[63.7,8.2],[64.7,6.3],[65.8,14.4],[66.8,11.3],[67.8,8.8],[68.8,7],[69.8,3.2],[71.3,7.6],[72.8,8.8],[73.8,4.5],[75.4,11.9],[76.4,6.3],[77.9,11.3],[79.4,8.8],[80.4,11.9],[81.9,7.6],[83.4,8.2],[85.5,7.6],[86.9,10.1],[88.4,8.8],[90,9.1]];

const panelLetters=["a)","b)","c)","d)"];
const yTitles=["Bz (nT)","By (nT)","Bx (nT)","|B| (nT)"];
const colors=["#000000","#ec1c1c","#1f8a1f","#1616e8"];

// ===== Layout =====
const COLS={L:[103,472],R:[535,903]};
const ROWS={T:[[32,153],[162,281],[290,409],[419,540]],B:[[607,727],[737,857],[866,985],[993,1114]]};

const groups=[
 {title:"20010822 10:08",tx:296,col:"L",row:"T",xDomain:[12.14,64.86],xTicks:tlXTicks,minor:1,dotted:true,ylab:true,time:false,
  panels:[{yd:[-6.8,25],yt:tlBzTicks,s:[tlBzK,tlBzR,tlBzG,tlBzB],zero:true},
          {yd:[-27.1,4.2],yt:tlByTicks,s:[tlByK,tlByR,tlByG,tlByB],zero:true},
          {yd:[-21.6,4.9],yt:tlBxTicks,s:[tlBxK,tlBxR,tlBxG,tlBxB],zero:true},
          {yd:[1.75,32],yt:tlBmTicks,s:[tlBmK,tlBmR,tlBmG,tlBmB],zero:false}]},
 {title:"20030919 23:32",tx:717,col:"R",row:"T",xDomain:[32.0,92.1],xTicks:trXTicks,minor:1,dotted:false,ylab:false,time:false,
  panels:[{yd:[-6.8,6.45],yt:trBzTicks,s:[trBzK,trBzR,trBzG,trBzB],zero:true},
          {yd:[-9.85,3.6],yt:trByTicks,s:[trByK,trByR,trByG,trByB],zero:true},
          {yd:[-22.8,-6.05],yt:trBxTicks,s:[trBxK,trBxR,trBxG,trBxB],zero:false},
          {yd:[7.6,23.7],yt:trBmTicks,s:[trBmK,trBmR,trBmG,trBmB],zero:false}]},
 {title:"20030824 18:43",tx:287,col:"L",row:"B",xDomain:[-2.01,17.01],xTicks:blXTicks,minor:1,dotted:false,ylab:true,time:true,timeX:287,
  panels:[{yd:[-14.2,9.2],yt:blBzTicks,s:[blBzK,blBzR,blBzG,blBzB],zero:true},
          {yd:[0.28,21],yt:blByTicks,s:[blByK,blByR,blByG,blByB],zero:false},
          {yd:[-25.9,22.3],yt:blBxTicks,s:[blBxK,blBxR,blBxG,blBxB],zero:true},
          {yd:[6.95,27.4],yt:blBmTicks,s:[blBmK,blBmR,blBmG,blBmB],zero:false}]},
 {title:"20010822 9:49",tx:718,col:"R",row:"B",xDomain:[34.2,90.0],xTicks:brXTicks,minor:1,dotted:false,ylab:false,time:true,timeX:739,
  panels:[{yd:[-15.3,10.9],yt:brBzTicks,s:[brBzK,brBzR,brBzG,brBzB],zero:true},
          {yd:[-7.5,8.3],yt:brByTicks,s:[brByK,brByR,brByG,brByB],zero:true},
          {yd:[-22.4,9.7],yt:brBxTicks,s:[brBxK,brBxR,brBxG,brBxB],zero:true},
          {yd:[0.67,23.2],yt:brBmTicks,s:[brBmK,brBmR,brBmG,brBmB],zero:false}]}
];

const svg=d3.select("#c");
const FONT='"Liberation Sans",Arial,Helvetica,sans-serif';
function stext(sel,x,y,str,size,sx,anchor,rot){
  let t=`translate(${x},${y})`+(rot?` rotate(${rot})`:"")+` scale(${sx},1)`;
  return sel.append("text").attr("transform",t).attr("text-anchor",anchor).attr("font-size",size).text(str);
}
const fmt=d=>String(((d%60)+60)%60).padStart(2,"0");

groups.forEach((g,gi)=>{
  const [x0,x1]=COLS[g.col];
  const x=d3.scaleLinear().domain(g.xDomain).range([x0,x1]);
  const rows=ROWS[g.row];
  stext(svg,g.tx,rows[0][0]-5,g.title,20,1.33,"middle");
  const majors=g.xTicks;
  const minors=d3.range(Math.ceil(g.xDomain[0]),Math.floor(g.xDomain[1])+1,g.minor).filter(v=>!majors.includes(v));
  g.panels.forEach((p,pi)=>{
    const [y0,y1]=rows[pi];
    const y=d3.scaleLinear().domain(p.yd).range([y1,y0]);
    const cid=`clip${gi}_${pi}`;
    svg.append("clipPath").attr("id",cid).append("rect").attr("x",x0).attr("y",y0).attr("width",x1-x0).attr("height",y1-y0);
    const pg=svg.append("g");
    if(p.zero && p.yd[0]<0 && p.yd[1]>0){
      pg.append("line").attr("x1",x0).attr("x2",x1).attr("y1",y(0)).attr("y2",y(0))
        .attr("stroke","#8a8a8a").attr("stroke-width",1.6).attr("stroke-dasharray",g.dotted?"1.6,1.2":null);
    }
    const line=d3.line().x(d=>x(d[0])).y(d=>y(d[1]));
    const lg=pg.append("g").attr("clip-path",`url(#${cid})`);
    p.s.forEach((s,si)=>{
      lg.append("path").attr("d",line(s)).attr("fill","none").attr("stroke",colors[si])
        .attr("stroke-width",1.9).attr("stroke-linejoin","round");
    });
    const mk=(ax,tr,vals,len)=>{
      const a=pg.append("g").attr("transform",tr).call(ax.tickValues(vals).tickSize(-len).tickFormat(""));
      a.select(".domain").remove();
      a.selectAll("line").attr("stroke","#000").attr("stroke-width",2);
    };
    mk(d3.axisBottom(x),`translate(0,${y1})`,majors,14);
    mk(d3.axisBottom(x),`translate(0,${y1})`,minors,7);
    mk(d3.axisTop(x),`translate(0,${y0})`,majors,14);
    mk(d3.axisTop(x),`translate(0,${y0})`,minors,7);
    const ytIn=p.yt.filter(v=>v>p.yd[0]&&v<p.yd[1]);
    mk(d3.axisLeft(y),`translate(${x0},0)`,ytIn,14);
    mk(d3.axisRight(y),`translate(${x1},0)`,ytIn,14);
    pg.append("rect").attr("x",x0).attr("y",y0).attr("width",x1-x0).attr("height",y1-y0)
      .attr("rx",2).attr("fill","none").attr("stroke","#000").attr("stroke-width",2.6);
    // y tick labels, size adapted to tick spacing
    const spacing=Math.abs(y(p.yt[1])-y(p.yt[0]));
    const fs=Math.min(19,Math.max(13,spacing*0.9));
    const yl=pg.append("g").attr("transform",`translate(${x0},0)`)
      .call(d3.axisLeft(y).tickValues(p.yt).tickSize(0).tickPadding(0));
    yl.select(".domain").remove();
    yl.attr("font-size",fs).attr("font-family",FONT).attr("font-weight","bold");
    yl.selectAll("text").attr("x",-10).attr("dy","0.36em").attr("transform",`scale(${fs<17?1.3:1.2},1)`).attr("fill","#000");
    stext(pg,x1-35,y1-20,panelLetters[pi],17,1.15,"end");
    if(g.ylab) stext(pg,40,(y0+y1)/2,yTitles[pi],22,1.1,"middle",-90);
    if(pi===3){
      const xl=pg.append("g").attr("transform",`translate(0,${y1})`)
        .call(d3.axisBottom(x).tickValues(majors).tickSize(0).tickFormat(fmt));
      xl.select(".domain").remove();
      xl.attr("font-size",22).attr("font-family",FONT).attr("font-weight","bold");
      xl.selectAll("text").attr("y",33).attr("dy",null).attr("transform","scale(1.22,1)").attr("fill","#000");
      if(g.time) stext(svg,g.timeX,1175,"Time (s)",24,1.16,"middle");
    }
  });
});
</script>
</body></html>
